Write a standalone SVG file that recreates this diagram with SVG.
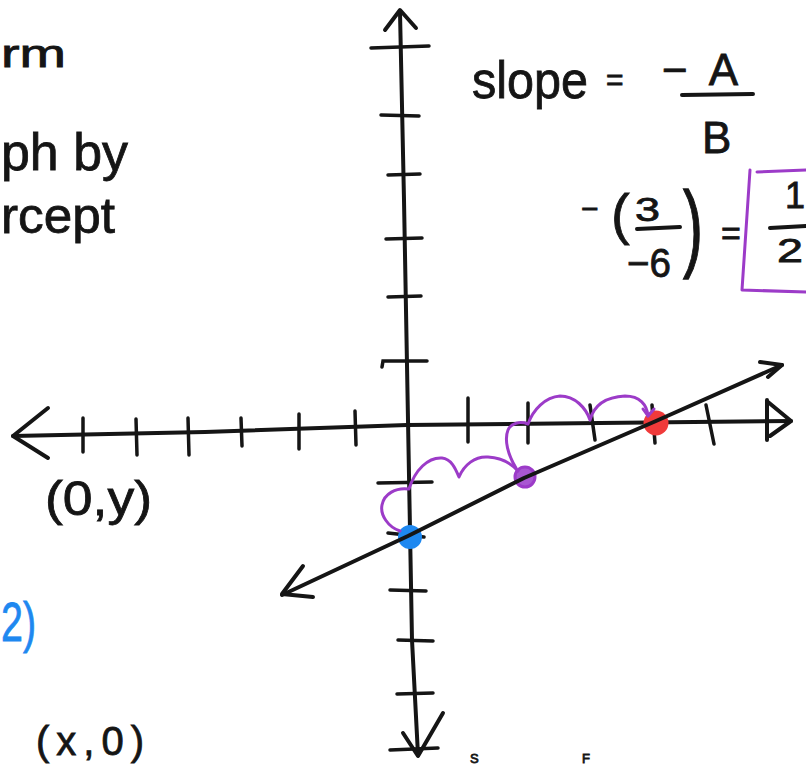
<svg xmlns="http://www.w3.org/2000/svg" width="806" height="765" viewBox="0 0 806 765">
<style>
.ink{stroke:#151515;stroke-width:4;fill:none;stroke-linecap:round;stroke-linejoin:round}
.tk{stroke:#151515;stroke-width:3.5;fill:none;stroke-linecap:round}
.pur{stroke:#9c3bc8;stroke-width:3;fill:none;stroke-linecap:round;stroke-linejoin:round}
.t{font-family:"Liberation Sans",Arial,sans-serif;fill:#151515;stroke:#151515;stroke-width:0.8}
.tb{font-family:"Liberation Sans",Arial,sans-serif;fill:#1e88f0;stroke:#1e88f0;stroke-width:0.8}
</style>
<rect width="806" height="765" fill="#ffffff"/>

<g id="notes-left">
<text class="t" x="1" y="67" font-size="38" textLength="65" lengthAdjust="spacingAndGlyphs">rm</text>
<text class="t" x="1" y="170" font-size="52" textLength="127" lengthAdjust="spacingAndGlyphs">ph by</text>
<text class="t" x="1" y="233" font-size="50" textLength="114" lengthAdjust="spacingAndGlyphs">rcept</text>
<text class="t" x="45" y="515" font-size="48" textLength="107" lengthAdjust="spacingAndGlyphs">(0,y)</text>
<text class="tb" x="1" y="641" font-size="56" textLength="35" lengthAdjust="spacingAndGlyphs">2)</text>
<text class="t" x="36" y="755" font-size="40" textLength="108" lengthAdjust="spacing">(x,0)</text>
<text class="t" x="470" y="763" font-size="13" stroke-width="0.5">S</text>
<text class="t" x="582" y="763" font-size="13" stroke-width="0.5">F</text>
</g>

<g id="slope-formula">
<text class="t" x="472" y="98" font-size="52" textLength="116" lengthAdjust="spacingAndGlyphs">slope</text>
<text class="t" x="606" y="90" font-size="30">=</text>
<text class="t" x="662" y="85" font-size="44" textLength="76" lengthAdjust="spacing">−A</text>
<path class="ink" d="M682,95 L753,94"/>
<text class="t" x="702" y="153" font-size="44">B</text>
</g>

<g id="slope-value">
<text class="t" x="581" y="219" font-size="30">−</text>
<text class="t" x="611" y="233" font-size="56">(</text>
<text class="t" x="635" y="221" font-size="34" textLength="25" lengthAdjust="spacingAndGlyphs">3</text>
<path class="ink" d="M637,229 L680,227"/>
<text class="t" x="627" y="277" font-size="40" textLength="44" lengthAdjust="spacingAndGlyphs">−6</text>
<text class="t" transform="translate(683,259) scale(1,1.6)" x="0" y="0" font-size="60">)</text>
<text class="t" x="721" y="245" font-size="34">=</text>
<path class="pur" d="M757,172 L806,170 M750,170 L742,290 L806,292"/>
<text class="t" x="785" y="208" font-size="36">1</text>
<path class="ink" d="M770,228 L806,226"/>
<text class="t" x="777" y="262" font-size="34" textLength="26" lengthAdjust="spacingAndGlyphs">2</text>
</g>

<g id="axes">
<path class="ink" d="M13,436 L205,432 L407,425 L600,423 L791,421"/>
<path class="ink" d="M48,408 L13,436 L48,458"/>
<path class="ink" d="M767,400 L767,440 M768,402 L791,421 L770,436"/>
<path class="ink" d="M400,12 L404,200 L408,420 L412,640 L418,755"/>
<path class="ink" d="M385,30 L400,10 L416,28"/>
<path class="ink" d="M403,733 L418,756 L443,713"/>
</g>

<g id="ticks">
<path class="tk" d="M83,418 L83,452 M136,419 L137,455 M188,418 L189,455 M241,418 L242,446 M299,414 L299,449 M355,411 L356,445 M468,398 L468,442 M528,403 L528,443 M590,405 L595,440 M652,405 L655,443 M706,405 L714,444"/>
<path class="tk" d="M371,48 L429,46 M381,115 L419,116 M388,175 L420,174 M386,239 L422,238 M388,297 L421,296 M382,367 L383,361 L427,361 M378,483 L432,482 M388,533 L424,537 M390,590 L426,591 M398,640 L433,641 M397,694 L433,693 M390,750 L438,748"/>
</g>

<g id="points">
<circle cx="410" cy="537" r="12" fill="#1e88f0"/>
<circle cx="656" cy="423" r="12.5" fill="#f03a3a"/>
<circle cx="525" cy="477" r="10" fill="#a957d2" stroke="#9c3bc8" stroke-width="3"/>
</g>

<g id="connectors">
<path class="ink" d="M282,595 L408,536 L524,478 L656,421 L782,365"/>
<path class="ink" d="M760,362 L782,365 L768,377"/>
<path class="ink" d="M303,566 L282,594 L313,597"/>
<path class="pur" d="M400,531 C388,527 380,515 382,505 C384,494 396,487 409,489 C415,470 428,457 442,458 C452,459 456,470 459,477 C464,465 475,456 488,457 C502,458 512,464 518,471"/>
<path class="pur" d="M516,468 C508,455 504,440 508,430 C511,423 520,421 528,424 C533,410 545,397 560,396 C575,396 586,408 590,420 C594,405 605,397 625,396 C640,396 647,405 648,416"/>
<path class="pur" d="M643,409 L648,416 L654,409"/>
</g>
</svg>
